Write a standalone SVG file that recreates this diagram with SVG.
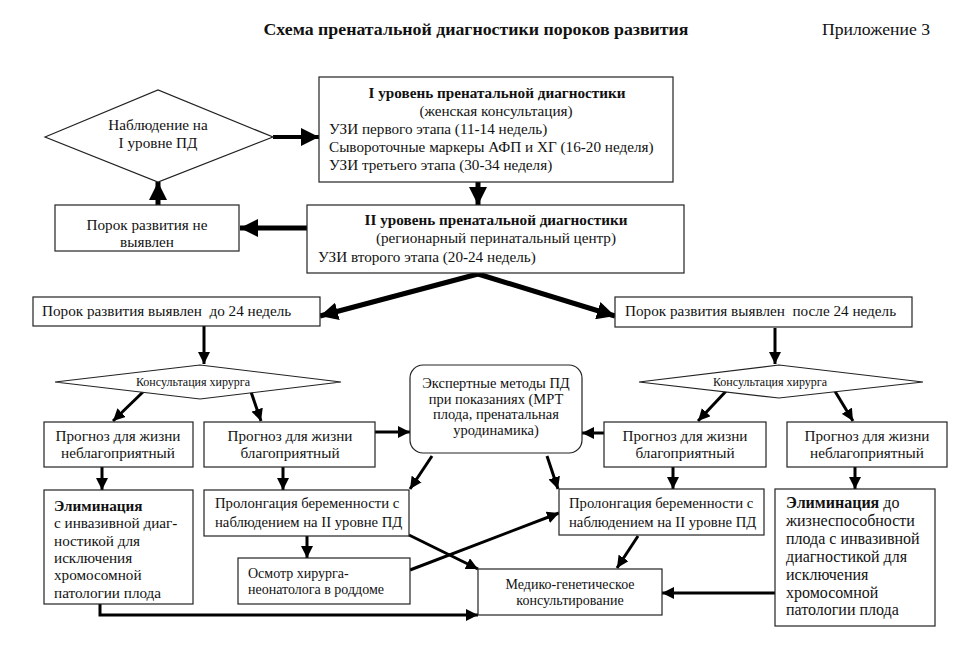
<svg xmlns="http://www.w3.org/2000/svg" width="966" height="650" viewBox="0 0 966 650">
<defs>
<style>
text{font-family:"Liberation Serif","Times New Roman",serif;fill:#111;font-size:15.2px}
.b{font-weight:bold}
.c{text-anchor:middle}
.sm{font-size:12px}
.e{font-size:14.5px}
.p{font-size:14.7px}
.m{font-size:14px}
.r{font-size:16px}
.box{fill:#fff;stroke:#222;stroke-width:1.2}
.ln{fill:none;stroke:#000;stroke-width:3}
.th{fill:none;stroke:#000;stroke-width:5}
</style>
<marker id="a" markerUnits="userSpaceOnUse" viewBox="0 0 12 12" markerWidth="12" markerHeight="12" refX="12" refY="6" orient="auto"><path d="M0,0 L12,6 L0,12 z" fill="#000"/></marker>
<marker id="A" markerUnits="userSpaceOnUse" viewBox="0 0 18 18" markerWidth="18" markerHeight="18" refX="18" refY="9" orient="auto"><path d="M0,0 L18,9 L0,18 z" fill="#000"/></marker>
</defs>
<rect width="966" height="650" fill="#fff"/>
<text x="476" y="35" class="b c" style="font-size:17px" textLength="425" lengthAdjust="spacingAndGlyphs">Схема пренатальной диагностики пороков развития</text>
<text x="822" y="35" style="font-size:17px" textLength="108" lengthAdjust="spacingAndGlyphs">Приложение 3</text>

<g id="connectors">
<line class="ln" x1="273" y1="137" x2="319" y2="137" style="stroke-width:4" marker-end="url(#A)"/>
<line class="th" x1="478" y1="182" x2="478" y2="205" marker-end="url(#A)"/>
<line class="th" x1="307" y1="228" x2="240" y2="228" marker-end="url(#A)"/>
<line class="th" x1="158" y1="205" x2="158" y2="182" marker-end="url(#A)"/>
<line class="th" x1="478" y1="274" x2="320" y2="316" marker-end="url(#A)"/>
<line class="th" x1="478" y1="274" x2="615" y2="316" marker-end="url(#A)"/>
<line class="ln" x1="204" y1="326" x2="204" y2="364" marker-end="url(#a)"/>
<line class="ln" x1="775" y1="328" x2="775" y2="364" marker-end="url(#a)"/>
<line class="ln" x1="145" y1="390" x2="113" y2="421" marker-end="url(#a)"/>
<line class="ln" x1="250" y1="389" x2="261" y2="421" marker-end="url(#a)"/>
<line class="ln" x1="729" y1="388" x2="698" y2="421" marker-end="url(#a)"/>
<line class="ln" x1="833" y1="388" x2="853" y2="421" marker-end="url(#a)"/>
<line class="ln" x1="375" y1="432" x2="410" y2="432" marker-end="url(#a)"/>
<line class="ln" x1="604" y1="433" x2="582" y2="433" marker-end="url(#a)"/>
<line class="ln" x1="102" y1="467" x2="102" y2="490" marker-end="url(#a)"/>
<line class="ln" x1="283" y1="467" x2="283" y2="490" marker-end="url(#a)"/>
<line class="ln" x1="673" y1="467" x2="673" y2="489" marker-end="url(#a)"/>
<line class="ln" x1="855" y1="467" x2="855" y2="489" marker-end="url(#a)"/>
<line class="ln" x1="432" y1="456" x2="410" y2="489" marker-end="url(#a)"/>
<line class="ln" x1="547" y1="456" x2="558" y2="489" marker-end="url(#a)"/>
<line class="ln" x1="307" y1="536" x2="307" y2="558" marker-end="url(#a)"/>
<line class="ln" x1="409" y1="535" x2="478" y2="569" marker-end="url(#a)"/>
<line class="ln" x1="410" y1="570" x2="559" y2="513" marker-end="url(#a)"/>
<line class="ln" x1="638" y1="536" x2="617" y2="568" marker-end="url(#a)"/>
<line class="ln" x1="775" y1="593" x2="662" y2="593" marker-end="url(#a)"/>
<path class="ln" d="M100,604 L100,615 L478,615" marker-end="url(#a)"/>
</g>

<g id="level1">
<rect class="box" x="319" y="77" width="354" height="105"/>
<text x="497" y="98" class="b c">I уровень пренатальной диагностики</text>
<text x="496" y="116" class="c">(женская консультация)</text>
<text x="329" y="134">УЗИ первого этапа (11-14 недель)</text>
<text x="329" y="152">Сывороточные маркеры АФП и ХГ (16-20 неделя)</text>
<text x="329" y="170">УЗИ третьего этапа (30-34 неделя)</text>
</g>

<g id="observe">
<polygon class="box" points="45,137 158,90 273,137 158,182"/>
<text x="158" y="130" class="c">Наблюдение на</text>
<text x="158" y="148" class="c">I уровне ПД</text>
</g>

<g id="level2">
<rect class="box" x="307" y="205" width="377" height="68"/>
<text x="496" y="225" class="b c">II уровень пренатальной диагностики</text>
<text x="496" y="243" class="c">(регионарный перинатальный центр)</text>
<text x="318" y="262">УЗИ второго этапа (20-24 недель)</text>
</g>

<g id="notfound">
<rect class="box" x="55" y="205" width="184" height="46"/>
<text x="147" y="230" class="c">Порок развития не</text>
<text x="147" y="247" class="c">выявлен</text>
</g>

<g id="before24">
<rect class="box" x="33" y="297" width="287" height="29"/>
<text x="42" y="316" xml:space="preserve">Порок развития выявлен  до 24 недель</text>
</g>

<g id="after24">
<rect class="box" x="615" y="297" width="297" height="30"/>
<text x="625" y="316" xml:space="preserve">Порок развития выявлен  после 24 недель</text>
</g>

<g id="consultL">
<polygon class="box" points="55,382 200,365 341,382 200,399"/>
<text x="193" y="386" class="c sm">Консультация хирурга</text>
</g>

<g id="consultR">
<polygon class="box" points="639,382 779,365 923,382 779,398"/>
<text x="770" y="386" class="c sm">Консультация хирурга</text>
</g>

<g id="badL">
<rect class="box" x="44" y="422" width="149" height="45"/>
<text x="118" y="441" class="c">Прогноз для жизни</text>
<text x="118" y="458" class="c">неблагоприятный</text>
</g>

<g id="goodL">
<rect class="box" x="204" y="422" width="171" height="45"/>
<text x="290" y="441" class="c">Прогноз для жизни</text>
<text x="290" y="458" class="c">благоприятный</text>
</g>

<g id="expert">
<rect class="box" x="410" y="365" width="172" height="88" rx="13"/>
<text x="496" y="388" class="c e">Экспертные методы ПД</text>
<text x="496" y="404" class="c e">при показаниях (МРТ</text>
<text x="496" y="419" class="c e">плода, пренатальная</text>
<text x="496" y="435" class="c e">уродинамика)</text>
</g>

<g id="goodR">
<rect class="box" x="604" y="422" width="162" height="45"/>
<text x="685" y="441" class="c">Прогноз для жизни</text>
<text x="685" y="458" class="c">благоприятный</text>
</g>

<g id="badR">
<rect class="box" x="787" y="422" width="160" height="45"/>
<text x="867" y="441" class="c">Прогноз для жизни</text>
<text x="867" y="458" class="c">неблагоприятный</text>
</g>

<g id="elimL">
<rect class="box" x="44" y="490" width="149" height="114"/>
<text x="54" y="511" class="b">Элиминация</text>
<text x="54" y="528">с инвазивной диаг-</text>
<text x="54" y="546">ностикой для</text>
<text x="54" y="563">исключения</text>
<text x="54" y="580">хромосомной</text>
<text x="54" y="598">патологии плода</text>
</g>

<g id="prolongL">
<rect class="box" x="204" y="490" width="205" height="46"/>
<text x="215" y="508" class="p">Пролонгация беременности с</text>
<text x="215" y="527" class="p">наблюдением на II уровне ПД</text>
</g>

<g id="exam">
<rect class="box" x="238" y="558" width="172" height="46"/>
<text x="248" y="578" class="m">Осмотр хирурга-</text>
<text x="248" y="594" class="m">неонатолога в роддоме</text>
</g>

<g id="prolongR">
<rect class="box" x="559" y="489" width="205" height="46"/>
<text x="569" y="508" class="p">Пролонгация беременности с</text>
<text x="569" y="527" class="p">наблюдением на II уровне ПД</text>
</g>

<g id="elimR">
<rect class="box" x="775" y="489" width="160" height="137"/>
<text x="786" y="508" class="r"><tspan class="b">Элиминация</tspan> до</text>
<text x="786" y="526" class="r">жизнеспособности</text>
<text x="786" y="544" class="r">плода с инвазивной</text>
<text x="786" y="562" class="r">диагностикой для</text>
<text x="786" y="580" class="r">исключения</text>
<text x="786" y="598" class="r">хромосомной</text>
<text x="786" y="615" class="r">патологии плода</text>
</g>

<g id="genetic">
<rect class="box" x="478" y="569" width="184" height="46"/>
<text x="570" y="589" class="c m">Медико-генетическое</text>
<text x="570" y="605" class="c m">консультирование</text>
</g>
</svg>
